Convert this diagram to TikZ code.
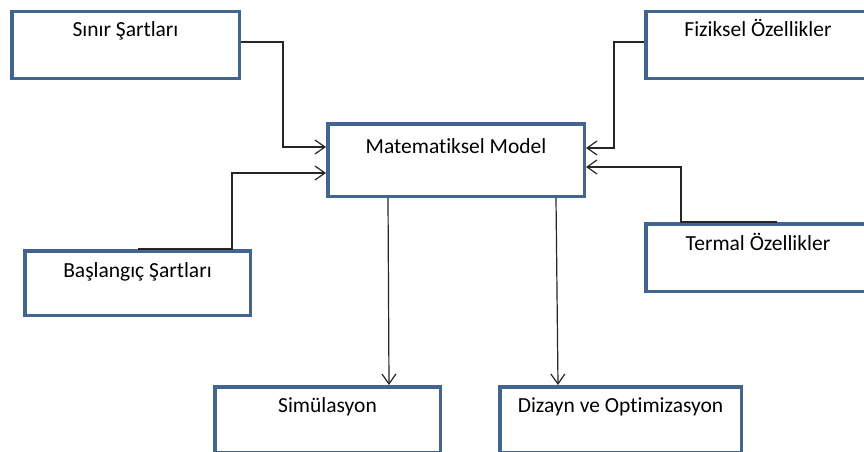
\documentclass[tikz,border=0pt]{standalone}
\usepackage{fontspec}
\setmainfont{Carlito}[Ligatures={NoCommon}]
\usetikzlibrary{arrows.meta}
\definecolor{kutumavi}{RGB}{65,100,145}
\tikzset{
    kutu/.style={draw=kutumavi, line width=3.5pt, rectangle, anchor=north west, inner xsep=0pt, inner ysep=0pt, outer sep=1.75pt, font=\fontsize{21.5pt}{25pt}\selectfont},
    ok/.style={-{Straight Barb[length=10pt,width=14pt]}, line width=1.2pt, black!85}
}

\begin{document}
\begin{tikzpicture}[x=1pt, y=-1pt]
    \useasboundingbox (0,0) rectangle (864,452);
    \clip (0,0) rectangle (864,452);

    \node[kutu, minimum width=227.5pt, text height=25.25pt, text depth=41.25pt] (sinir) at (10,10) {Sınır Şartları};
    \node[kutu, minimum width=224.5pt, text height=25.25pt, text depth=41.25pt] (fiziksel) at (644,10) {Fiziksel Özellikler};
    \node[kutu, minimum width=256.5pt, text height=29.25pt, text depth=43.25pt] (model) at (326,122) {Matematiksel Model};
    \node[kutu, minimum width=224.5pt, text height=26.25pt, text depth=41.25pt] (termal) at (644,222) {Termal Özellikler};
    \node[kutu, minimum width=225.5pt, text height=26.25pt, text depth=38.25pt] (baslangic) at (23,249) {Başlangıç Şartları};
    \node[kutu, minimum width=225.5pt, text height=25.25pt, text depth=40.25pt] (simulasyon) at (213,385) {Simülasyon};
    \node[kutu, minimum width=241.5pt, text height=25.25pt, text depth=40.25pt] (dizayn) at (498,385) {Dizayn ve Optimizasyon};

    \draw[ok] ([yshift=3pt]sinir.east) -- ++(42,0) |- ([yshift=13pt]model.west);
    \draw[ok] (baslangic.north) -- ++(94.5,0) |- ([yshift=-13pt]model.west);
    \draw[ok] ([yshift=3pt]fiziksel.west) -- ++(-30,0) |- ([yshift=12pt]model.east);
    \draw[ok] ([xshift=19pt]termal.north) -- ++(-96,0) |- ([yshift=-7pt]model.east);
    \draw[ok] ([xshift=-68pt]model.south) -- ([xshift=61.5pt]simulasyon.north);
    \draw[ok] ([xshift=100pt]model.south) -- ([xshift=-62.5pt]dizayn.north);
\end{tikzpicture}
\end{document}
